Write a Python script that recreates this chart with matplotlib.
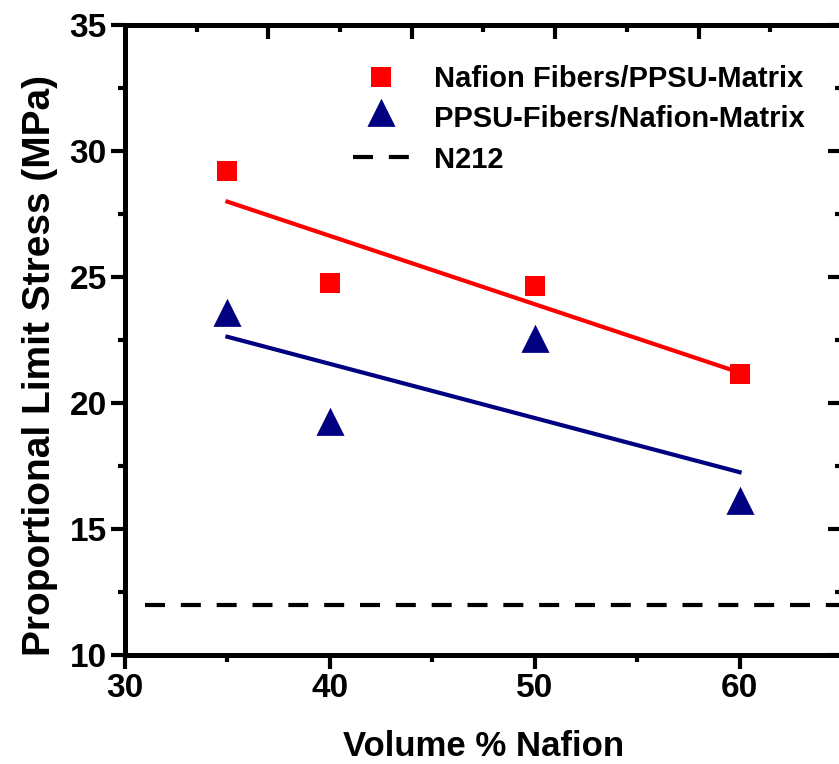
import numpy as np
import matplotlib
matplotlib.use('Agg')
import matplotlib.pyplot as plt
from matplotlib.ticker import MultipleLocator, FixedLocator
from matplotlib.path import Path

plt.rcParams['font.family'] = ['Liberation Sans', 'DejaVu Sans']
plt.rcParams['font.weight'] = 'bold'
plt.rcParams['axes.labelweight'] = 'bold'

# data
vol_nafion = [35, 40, 50, 60]
nafion_fibers = [29.2, 24.76, 24.64, 21.15]
ppsu_fibers = [23.42, 19.08, 22.37, 15.97]
n212 = 12.0

fig = plt.figure(figsize=(8.39, 7.64), dpi=100)
ax = fig.add_axes([125 / 839, 109 / 764, 717 / 839, 630 / 764])

red = '#ff0000'
navy = '#000080'

# triangle centred on its centroid (like the original software draws it)
tri = Path([(-1, -2 / 3), (1, -2 / 3), (0, 4 / 3), (-1, -2 / 3)],
           [Path.MOVETO, Path.LINETO, Path.LINETO, Path.CLOSEPOLY])

# linear fits over the data range
xfit = np.array([35, 60])
p1 = np.polyfit(vol_nafion, nafion_fibers, 1)
p2 = np.polyfit(vol_nafion, ppsu_fibers, 1)
ax.plot(xfit, np.polyval(p1, xfit), color=red, lw=3, zorder=2)
ax.plot(xfit, np.polyval(p2, xfit), color=navy, lw=3, zorder=2)

ax.plot(vol_nafion, nafion_fibers, 's', color=red, ms=15, mew=0,
        label='Nafion Fibers/PPSU-Matrix', zorder=3)
ax.plot(vol_nafion, ppsu_fibers, ls='none', marker=tri, color=navy, ms=27,
        mew=0, label='PPSU-Fibers/Nafion-Matrix', zorder=3)
ax.axhline(n212, xmin=(31 - 30) / 35, color='black', lw=3,
           dashes=(4.8, 3.8), label='N212', zorder=2)

ax.set_xlim(30, 65)
ax.set_ylim(10, 35)
ax.xaxis.set_major_locator(FixedLocator([30, 40, 50, 60]))
ax.xaxis.set_minor_locator(FixedLocator([35, 45, 55]))
ax.yaxis.set_major_locator(MultipleLocator(5))
ax.yaxis.set_minor_locator(MultipleLocator(2.5))

for s in ax.spines.values():
    s.set_linewidth(3.6)
ax.tick_params(which='major', direction='out', length=10, width=3,
               labelsize=24, pad=3)
ax.tick_params(which='minor', direction='out', length=5, width=3)

# right and top frame ticks (inward, no labels)
right = ax.secondary_yaxis('right')
right.yaxis.set_major_locator(MultipleLocator(5))
right.yaxis.set_minor_locator(MultipleLocator(2.5))
right.tick_params(which='major', direction='in', length=10, width=3, labelright=False)
right.tick_params(which='minor', direction='in', length=5, width=3)

top = ax.secondary_xaxis('top', functions=(lambda x: (x - 30) / 3.5,
                                            lambda t: 30 + 3.5 * t))
top.xaxis.set_major_locator(FixedLocator([2, 4, 6, 8]))
top.xaxis.set_minor_locator(FixedLocator([1, 3, 5, 7, 9]))
top.tick_params(which='major', direction='in', length=10, width=3, labeltop=False)
top.tick_params(which='minor', direction='in', length=5, width=3)
for sec in (right, top):
    for s in sec.spines.values():
        s.set_linewidth(3.6)

ax.set_xlabel('Volume % Nafion', fontsize=25, labelpad=19)
ax.set_ylabel('Proportional Limit Stress (MPa)', fontsize=28)
ax.yaxis.set_label_coords(-0.094, 0.46)

ax.legend(loc='upper left', bbox_to_anchor=(353 / 839, 1 - 65 / 764),
          bbox_transform=fig.transFigure, frameon=False, fontsize=21,
          handlelength=1.92, handletextpad=0.86, labelspacing=0.42,
          borderpad=0, borderaxespad=0)

fig.savefig('out.png', dpi=100)
